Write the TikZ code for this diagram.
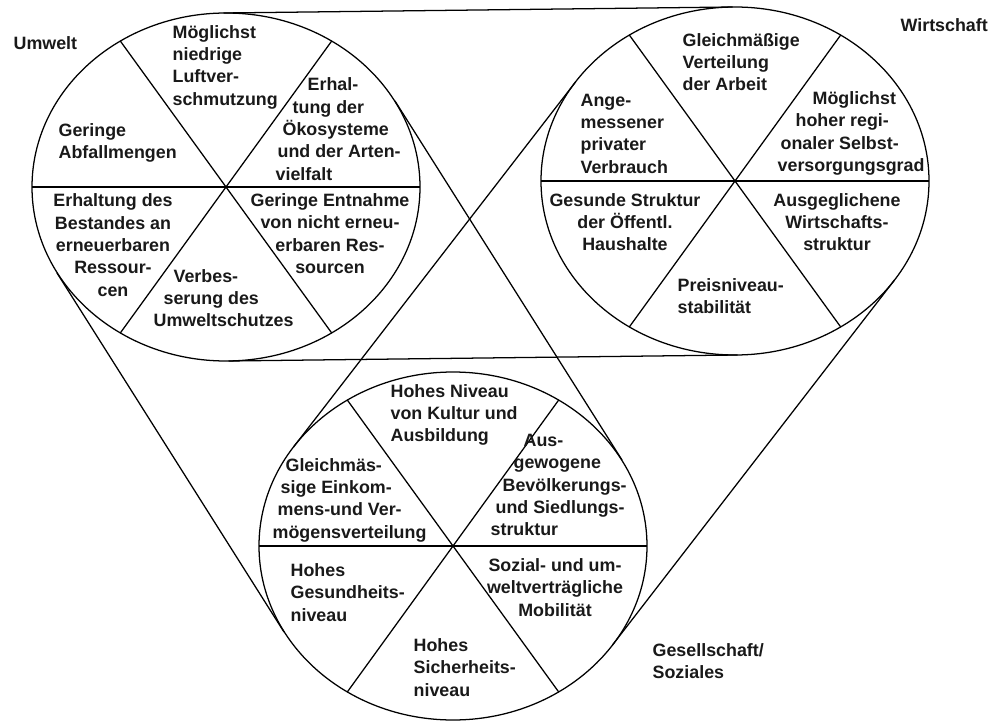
\documentclass[tikz,border=0pt]{standalone}
\usepackage{fontspec}
\setmainfont{Liberation Sans}
\begin{document}
\begin{tikzpicture}[x=0.025cm,y=-0.025cm,line width=0.9pt,
  txt/.style={inner sep=0pt,text=black!90,font=\fontsize{12.7}{15.9}\selectfont\bfseries},
  txtl/.style={txt,align=left,anchor=west},
  txtc/.style={txt,align=center}]
\useasboundingbox (0,0) rectangle (992,721);
%\draw[step=50,gray,very thin] (0,0) grid (992,721);
\coordinate (umw) at (226,187);
\coordinate (wir) at (735,181);
\coordinate (ges) at (453,546);
\draw (umw) ellipse [x radius=194, y radius=174];
\draw (wir) ellipse [x radius=194, y radius=174];
\draw (ges) ellipse [x radius=194, y radius=174];
% Speichen
\draw (umw) +(180:194 and 174) -- +(0:194 and 174);
\draw (umw) +(57:194 and 174) -- +(237:194 and 174);
\draw (umw) +(123:194 and 174) -- +(303:194 and 174);
\draw (wir) +(180:194 and 174) -- +(0:194 and 174);
\draw (wir) +(57:194 and 174) -- +(237:194 and 174);
\draw (wir) +(123:194 and 174) -- +(303:194 and 174);
\draw (ges) +(180:194 and 174) -- +(0:194 and 174);
\draw (ges) +(57:194 and 174) -- +(237:194 and 174);
\draw (ges) +(123:194 and 174) -- +(303:194 and 174);
% Tangenten
\coordinate (uwo1) at (223.5,13);  \coordinate (uwo2) at (732.5,7);
\coordinate (uwu1) at (228.5,361); \coordinate (uwu2) at (737.5,355);
\coordinate (uga1) at (57,273);    \coordinate (uga2) at (284,632);
\coordinate (ugi1) at (395,101);   \coordinate (ugi2) at (622,460);
\coordinate (wgi1) at (575.5,82);  \coordinate (wgi2) at (293.5,447);
\coordinate (wga1) at (894.5,280); \coordinate (wga2) at (612.5,645);
\draw (uwo1) -- (uwo2);
\draw (uwu1) -- (uwu2);
\draw (uga1) -- (uga2);
\draw (ugi1) -- (ugi2);
\draw (wgi1) -- (wgi2);
\draw (wga1) -- (wga2);
% Umwelt
\node[txtl] (lumw) at (13,43) {Umwelt};
\node[txtl] (luft) at (172,67) {Möglichst\\niedrige\\Luftver-\\schmutzung};
\node[txtl] (abfall) at (58,143) {Geringe\\Abfallmengen};
\node[txtl] (oeko) at (275,129) {\hspace*{0.8cm}Erhal-\\\hspace*{0.425cm}tung der\\\hspace*{0.175cm}Ökosysteme\\\hspace*{0.05cm}und der Arten-\\vielfalt};
\node[txtc] (entnahme) at (330,233.5) {Geringe Entnahme\\von nicht erneu-\\erbaren Res-\\sourcen};
\node[txtc] (bestand) at (113,245) {Erhaltung des\\Bestandes an\\erneuerbaren\\Ressour-\\cen};
\node[txtl] (schutz) at (153,298) {\hspace*{0.5cm}Verbes-\\\hspace*{0.25cm}serung des\\Umweltschutzes};
% Wirtschaft
\node[txtl] (lwir) at (900,25) {Wirtschaft};
\node[txtl] (arbeit) at (682,62) {Gleichmäßige\\Verteilung\\der Arbeit};
\node[txtl] (verbrauch) at (580,133.5) {Ange-\\messener\\privater\\Verbrauch};
\node[txtl] (selbst) at (777,133.5) {\hspace*{0.875cm}Möglichst\\\hspace*{0.45cm}hoher regi-\\\hspace*{0.075cm}onaler Selbst-\\versorgungsgrad};
\node[txtc] (haushalt) at (625,222) {Gesunde Struktur\\der Öffentl.\\Haushalte};
\node[txtc] (wstruktur) at (837,222) {Ausgeglichene\\Wirtschafts-\\struktur};
\node[txtl] (preis) at (677,296) {Preisniveau-\\stabilität};
% Gesellschaft
\node[txtl] (lges) at (652,661) {Gesellschaft/\\Soziales};
\node[txtl] (kultur) at (390,415) {Hohes Niveau\\von Kultur und\\Ausbildung};
\node[txtl] (siedlung) at (490,485) {\hspace*{0.825cm}Aus-\\\hspace*{0.575cm}gewogene\\\hspace*{0.3cm}Bevölkerungs-\\\hspace*{0.125cm}und Siedlungs-\\struktur};
\node[txtl] (einkommen) at (272,500) {\hspace*{0.325cm}Gleichmäs-\\\hspace*{0.2cm}sige Einkom-\\\hspace*{0.125cm}mens-und Ver-\\mögensverteilung};
\node[txtl] (gesundheit) at (290,592.5) {Hohes\\Gesundheits-\\niveau};
\node[txtc] (mobil) at (555,587.5) {Sozial- und um-\\weltverträgliche\\Mobilität};
\node[txtl] (sicherheit) at (413,667.5) {Hohes\\Sicherheits-\\niveau};
\end{tikzpicture}
\end{document}
